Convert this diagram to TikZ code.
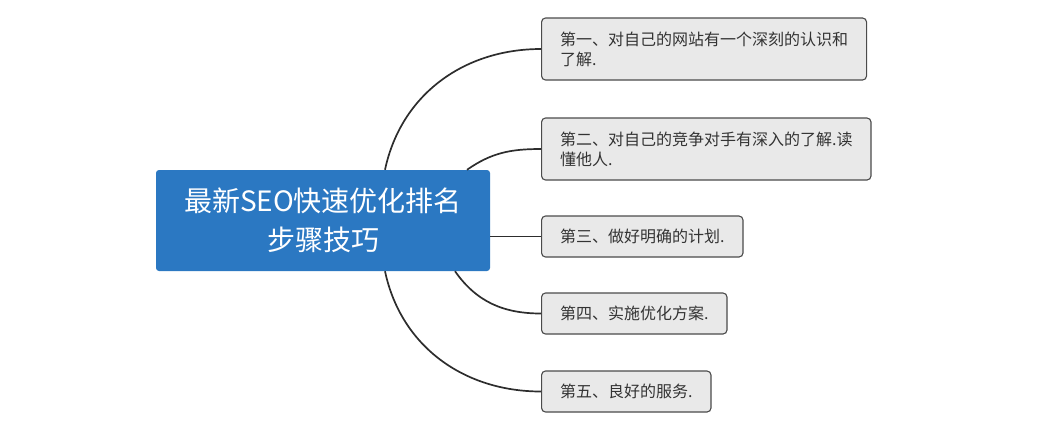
\documentclass[tikz,border=0pt]{standalone}
\usepackage{fontspec}
\setmainfont{Noto Sans CJK SC}
\usetikzlibrary{positioning,calc}
\definecolor{topicblue}{RGB}{43,120,194}
\definecolor{subfill}{RGB}{233,233,233}
\definecolor{subedge}{RGB}{75,75,75}
\definecolor{subtext}{RGB}{51,51,51}
\definecolor{linegray}{RGB}{45,45,45}
\begin{document}
\begin{tikzpicture}[x=1pt,y=1pt,
  topic/.style={fill=topicblue,rounded corners=3pt,text=white,minimum width=334pt,minimum height=101pt,align=center,font=\fontsize{28}{39}\selectfont},
  sub/.style={draw=subedge,line width=1.1pt,fill=subfill,rounded corners=4pt,anchor=west,align=left,text=subtext,inner xsep=18.5pt,inner ysep=6pt,minimum height=41pt,font=\fontsize{16}{20}\selectfont},
  branch/.style={draw=linegray,line width=1.7pt}]
\useasboundingbox (0,0) rectangle (1062,-421);
\node[topic] (seo) at (323,-220.5) {最新SEO快速优化排名\\步骤技巧};
\node[sub,minimum height=62pt] (s1) at (541,-49) {第一、对自己的网站有一个深刻的认识和\\了解.};
\node[sub,minimum height=62pt] (s2) at (541,-149) {第二、对自己的竞争对手有深入的了解.读\\懂他人.};
\node[sub] (s3) at (541,-236.5) {第三、做好明确的计划.};
\node[sub] (s4) at (541,-313.5) {第四、实施优化方案.};
\node[sub] (s5) at (541,-391.5) {第五、良好的服务.};
\draw[branch] ([xshift=62pt]seo.north) to[out=78,in=180] (s1.west);
\draw[branch] ([xshift=144pt]seo.north) to[out=35,in=180] (s2.west);
\draw[branch] (seo.east |- s3.west) -- (s3.west);
\draw[branch] ([xshift=132pt]seo.south) to[out=-55,in=180] (s4.west);
\draw[branch] ([xshift=62pt]seo.south) to[out=-78,in=180] (s5.west);
\end{tikzpicture}
\end{document}
